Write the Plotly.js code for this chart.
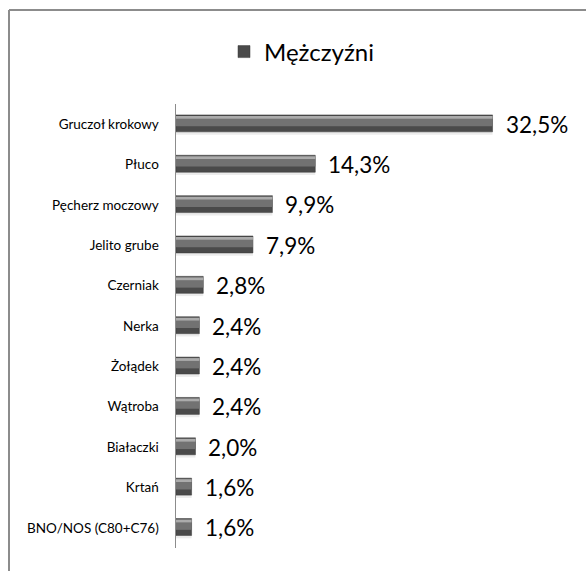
<!DOCTYPE html>
<html>
<head>
<meta charset="utf-8">
<script src="https://cdn.plot.ly/plotly-3.0.1.min.js"></script>
<style>html,body{margin:0;padding:0;background:#fff;}#chart{width:586px;height:571px;}</style>
</head>
<body>
<div id="chart"></div>
<script>
const categories = ["Gruczoł krokowy","Płuco","Pęcherz moczowy","Jelito grube","Czerniak","Nerka","Żołądek","Wątroba","Białaczki","Krtań","BNO/NOS (C80+C76)"];
const values = [32.5, 14.3, 9.9, 7.9, 2.8, 2.4, 2.4, 2.4, 2.0, 1.6, 1.6];
const valueLabels = ["32,5%","14,3%","9,9%","7,9%","2,8%","2,4%","2,4%","2,4%","2,0%","1,6%","1,6%"];
const seriesName = "Mężczyźni";

const FONT = "Lato, 'Open Sans', sans-serif";

const T = 104, H = 444, L = 176, W = 374;
const px = x => (x - L) / W;
const py = y => 1 - (y - T) / H;

const common = {type:'bar', orientation:'h', x: values, y: categories, hoverinfo:'skip'};
const traces = [
  Object.assign({}, common, {name:'shadow', showlegend:false, marker:{color:'#ececec'}, width:0.44, offset:-0.18}),
  Object.assign({}, common, {name:seriesName, showlegend:true, marker:{color:'#4a4a4a', line:{color:'#3a3a3a', width:0.5}}, width:0.42, offset:-0.23}),
  Object.assign({}, common, {name:'mid', showlegend:false, marker:{color:'#727272'}, width:0.2, offset:-0.15}),
  Object.assign({}, common, {name:'hi', showlegend:false, marker:{color:'#ababab'}, width:0.07, offset:-0.205}),
];

const annotations = values.map((v,i)=>({
  x: v, y: categories[i], xref:'x', yref:'y', text: valueLabels[i],
  showarrow:false, xanchor:'left', yanchor:'middle', xshift:11, yshift:0,
  font:{family:FONT, size:22.5, color:'#000'}
}));

const layout = {
  width:586, height:571,
  margin:{l:L, r:586-L-W, t:T, b:571-T-H},
  paper_bgcolor:'#fff', plot_bgcolor:'#fff',
  barmode:'overlay',
  font:{family:FONT, color:'#000'},
  xaxis:{range:[0,38.4], showgrid:false, zeroline:false, showticklabels:false, showline:false, fixedrange:true},
  yaxis:{autorange:'reversed', type:'category', showgrid:false, zeroline:false, showline:true, linecolor:'#8c8c8c', linewidth:1.5,
         ticks:'', tickfont:{family:FONT, size:13.5, color:'#000'}, ticklabelstandoff:13},
  showlegend:true,
  legend:{orientation:'h', x:px(224), xanchor:'left', y:py(52), yanchor:'middle', font:{family:FONT, size:24, color:'#000'}, bgcolor:'rgba(0,0,0,0)'},
  annotations: annotations,
  shapes:[
    {type:'line', xref:'paper', yref:'paper', x0:px(9), x1:px(590), y0:py(10), y1:py(10), line:{color:'#8c8c8c', width:2}},
    {type:'line', xref:'paper', yref:'paper', x0:px(9), x1:px(9), y0:py(10), y1:py(580), line:{color:'#8c8c8c', width:2}}
  ]
};

Plotly.newPlot('chart', traces, layout, {displayModeBar:false, staticPlot:true});
</script>
</body>
</html>
